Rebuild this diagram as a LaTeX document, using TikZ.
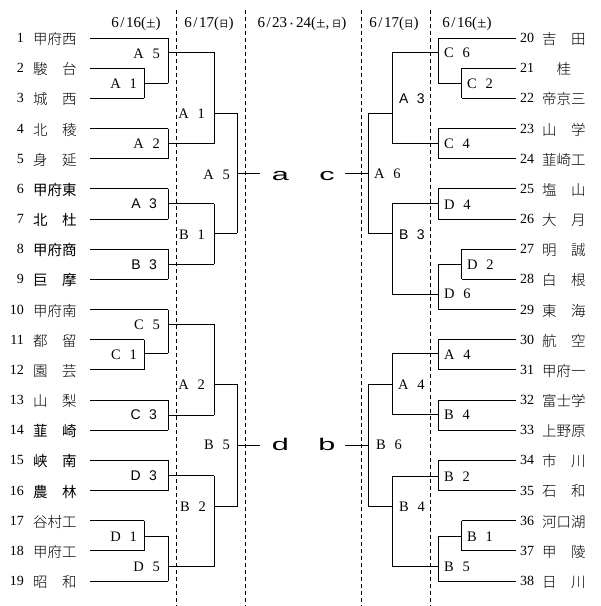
\documentclass[tikz,border=0pt]{standalone}
\usepackage{fontspec}
\setmainfont{Liberation Serif}
\newfontfamily\jp{Noto Sans CJK JP}
\newfontfamily\jpl{Noto Sans CJK JP Light}
\newfontfamily\sansf{Liberation Sans}
\newcommand\lblt[2]{#1\hspace{0.6em}#2}
\newcommand\smj[1]{{\jp\fontsize{9.5}{9.5}\selectfont #1}}
\newcommand\dd[2]{#1\kern1.5pt/\kern1.5pt#2}
\tikzset{
  ln/.style={line width=1pt},
  dsh/.style={line width=0.9pt,dash pattern=on 4pt off 3pt},
  num/.style={inner sep=0pt,font=\fontsize{14}{14}\selectfont},
  nm/.style={inner sep=0pt,anchor=west,font=\jpl\fontsize{14.5}{14.5}\selectfont},
  gb/.style={font=\jp\fontsize{14.5}{14.5}\selectfont},
  lab/.style={inner sep=0pt,font=\fontsize{14.5}{14.5}\selectfont},
  glab/.style={inner sep=0pt,font=\sansf\fontsize{14}{14}\selectfont},
  hdr/.style={inner sep=0pt,font=\fontsize{15}{15}\selectfont},
  big/.style={inner sep=0pt,anchor=base,font=\sansf\fontsize{17}{17}\selectfont}
}
\newcommand\teamL[5]{%
  \node[num,anchor=east] (k#1) at (24,#2) {#1};
  \node[nm,#5] (n#1) at (33,#2+1) {#3};
  \coordinate (t#1) at (90,#2);
  \draw[ln] (t#1) -- (#4,#2);}
\newcommand\teamR[5]{%
  \node[num,anchor=west] (k#1) at (520,#2) {#1};
  \node[nm,#5] (n#1) at (542,#2+1) {#3};
  \coordinate (t#1) at (516,#2);
  \draw[ln] (t#1) -- (#4,#2);}
\newcommand\br[5]{\draw[ln] (#1,#2) -- (#1,#3) (#1,#4) -- (#5,#4);}
\newcommand\labL[5]{\node[#4,anchor=east] (#5) at (#1,#2) {#3};}
\newcommand\labR[5]{\node[#4,anchor=west] (#5) at (#1,#2) {#3};}
\begin{document}
\begin{tikzpicture}[x=1pt,y=-1pt]
\useasboundingbox (0,0) rectangle (601,606);
\fill[white] (0,0) rectangle (601,606);
% dashed separators
\draw[dsh] (176,10) -- (176,606);
\draw[dsh] (245.5,10) -- (245.5,606);
\draw[dsh] (361.7,10) -- (361.7,606);
\draw[dsh] (430.5,10) -- (430.5,606);
% headers
\node[hdr] (h1) at (136,24) {\dd{6}{16}(\smj{土})};
\node[hdr] (h2) at (209,24) {\dd{6}{17}(\smj{日})};
\node[hdr] (h3) at (302,24) {\dd{6}{23}{\jp\fontsize{9}{9}\selectfont ・}24(\smj{土},\,\smj{日})};
\node[hdr] (h4) at (394,24) {\dd{6}{17}(\smj{日})};
\node[hdr] (h5) at (467,24) {\dd{6}{16}(\smj{土})};
% left teams
\teamL{1}{38.0}{甲府西}{168}{}
\teamL{2}{68.17}{駿　台}{144}{}
\teamL{3}{98.34}{城　西}{144}{}
\teamL{4}{128.51}{北　稜}{168}{}
\teamL{5}{158.68}{身　延}{168}{}
\teamL{6}{188.85}{甲府東}{168}{gb}
\teamL{7}{219.02}{北　杜}{168}{gb}
\teamL{8}{249.19}{甲府商}{168}{gb}
\teamL{9}{279.36}{巨　摩}{168}{gb}
\teamL{10}{309.53}{甲府南}{168}{}
\teamL{11}{339.7}{都　留}{144}{}
\teamL{12}{369.87}{園　芸}{144}{}
\teamL{13}{400.04}{山　梨}{168}{}
\teamL{14}{430.21}{韮　崎}{168}{gb}
\teamL{15}{460.38}{峡　南}{168}{gb}
\teamL{16}{490.55}{農　林}{168}{gb}
\teamL{17}{520.72}{谷村工}{144}{}
\teamL{18}{550.89}{甲府工}{144}{}
\teamL{19}{581.06}{昭　和}{168}{}
% right teams
\teamR{20}{38.0}{吉　田}{438}{}
\teamR{21}{68.17}{　桂}{461.7}{}
\teamR{22}{98.34}{帝京三}{461.7}{}
\teamR{23}{128.51}{山　学}{438}{}
\teamR{24}{158.68}{韮崎工}{438}{}
\teamR{25}{188.85}{塩　山}{438}{}
\teamR{26}{219.02}{大　月}{438}{}
\teamR{27}{249.19}{明　誠}{461.7}{}
\teamR{28}{279.36}{白　根}{461.7}{}
\teamR{29}{309.53}{東　海}{438}{}
\teamR{30}{339.7}{航　空}{438}{}
\teamR{31}{369.87}{甲府一}{438}{}
\teamR{32}{400.04}{富士学}{438}{}
\teamR{33}{430.21}{上野原}{438}{}
\teamR{34}{460.38}{市　川}{438}{}
\teamR{35}{490.55}{石　和}{438}{}
\teamR{36}{520.72}{河口湖}{461.7}{}
\teamR{37}{550.89}{甲　陵}{461.7}{}
\teamR{38}{581.06}{日　川}{438}{}
% left brackets
\br{144}{68.17}{98.34}{83.3}{168}
\br{168}{38.0}{83.3}{52}{214}
\br{168}{128.51}{158.68}{143.6}{214}
\br{168}{188.85}{219.02}{203.9}{214}
\br{168}{249.19}{279.36}{264.3}{214}
\br{214}{52}{143.6}{113}{237}
\br{214}{203.9}{264.3}{233}{237}
\br{237}{113}{233}{173}{260}
\br{144}{339.7}{369.87}{353}{168}
\br{168}{309.53}{353}{324}{214}
\br{168}{400.04}{430.21}{415.1}{214}
\br{214}{324}{415.1}{384}{237}
\br{168}{460.38}{490.55}{475.5}{214}
\br{144}{520.72}{550.89}{536.2}{168}
\br{168}{536.2}{581.06}{566.7}{214}
\br{214}{475.5}{566.7}{506.7}{237}
\br{237}{384}{506.7}{445}{260}
% right brackets
\br{461.7}{68.17}{98.34}{83.3}{438}
\br{438}{38.0}{83.3}{52}{392}
\br{438}{128.51}{158.68}{143.6}{392}
\br{392}{52}{143.6}{113}{368}
\br{438}{188.85}{219.02}{203.9}{392}
\br{461.7}{249.19}{279.36}{264.3}{438}
\br{438}{264.3}{309.53}{294.3}{392}
\br{392}{203.9}{294.3}{233}{368}
\br{368}{113}{233}{173}{345}
\br{438}{339.7}{369.87}{353.5}{392}
\br{438}{400.04}{430.21}{414.5}{392}
\br{392}{353.5}{414.5}{384.3}{368}
\br{438}{460.38}{490.55}{476}{392}
\br{461.7}{520.72}{550.89}{536.5}{438}
\br{438}{536.5}{581.06}{566.7}{392}
\br{392}{476}{566.7}{506.7}{368}
\br{368}{384.3}{506.7}{445}{345}
% left labels
\labL{160}{54}{\lblt{A}{5}}{lab}{lA5a}
\labL{137}{84}{\lblt{A}{1}}{lab}{lA1a}
\labL{160}{143.5}{\lblt{A}{2}}{lab}{lA2a}
\labL{205}{114}{\lblt{A}{1}}{lab}{lA1b}
\labL{157}{204}{\lblt{A}{3}}{glab}{lA3a}
\labL{157}{265}{\lblt{B}{3}}{glab}{lB3a}
\labL{205}{235}{\lblt{B}{1}}{lab}{lB1b}
\labL{230}{175}{\lblt{A}{5}}{lab}{lA5c}
\labL{160}{325}{\lblt{C}{5}}{lab}{lC5a}
\labL{137}{355}{\lblt{C}{1}}{lab}{lC1a}
\labL{205}{385}{\lblt{A}{2}}{lab}{lA2b}
\labL{157}{415}{\lblt{C}{3}}{glab}{lC3a}
\labL{230}{445}{\lblt{B}{5}}{lab}{lB5c}
\labL{157}{476}{\lblt{D}{3}}{glab}{lD3a}
\labL{206}{507}{\lblt{B}{2}}{lab}{lB2b}
\labL{137}{537}{\lblt{D}{1}}{lab}{lD1a}
\labL{160}{567}{\lblt{D}{5}}{lab}{lD5a}
% right labels
\labR{444}{53}{\lblt{C}{6}}{lab}{rC6a}
\labR{467}{84}{\lblt{C}{2}}{lab}{rC2a}
\labR{399}{99}{\lblt{A}{3}}{glab}{rA3b}
\labR{444}{144}{\lblt{C}{4}}{lab}{rC4a}
\labR{374}{174}{\lblt{A}{6}}{lab}{rA6c}
\labR{444}{205}{\lblt{D}{4}}{lab}{rD4a}
\labR{399}{235}{\lblt{B}{3}}{glab}{rB3b}
\labR{467}{265}{\lblt{D}{2}}{lab}{rD2a}
\labR{444}{294}{\lblt{D}{6}}{lab}{rD6a}
\labR{444}{355}{\lblt{A}{4}}{lab}{rA4a}
\labR{398}{385}{\lblt{A}{4}}{lab}{rA4b}
\labR{444}{415}{\lblt{B}{4}}{lab}{rB4a}
\labR{376}{445}{\lblt{B}{6}}{lab}{rB6c}
\labR{444}{477}{\lblt{B}{2}}{lab}{rB2a}
\labR{399}{507}{\lblt{B}{4}}{lab}{rB4b}
\labR{467}{537}{\lblt{B}{1}}{lab}{rB1a}
\labR{444}{567}{\lblt{B}{5}}{lab}{rB5a}
% centre letters
\node[big] (ca) at (280.5,180) {\scalebox{1.8}[1]{a}};
\node[big] (cc) at (327,180) {\scalebox{1.8}[1]{c}};
\node[big] (cd) at (280.5,450) {\scalebox{1.8}[1]{d}};
\node[big] (cb) at (327,450) {\scalebox{1.8}[1]{b}};
\end{tikzpicture}
\end{document}
